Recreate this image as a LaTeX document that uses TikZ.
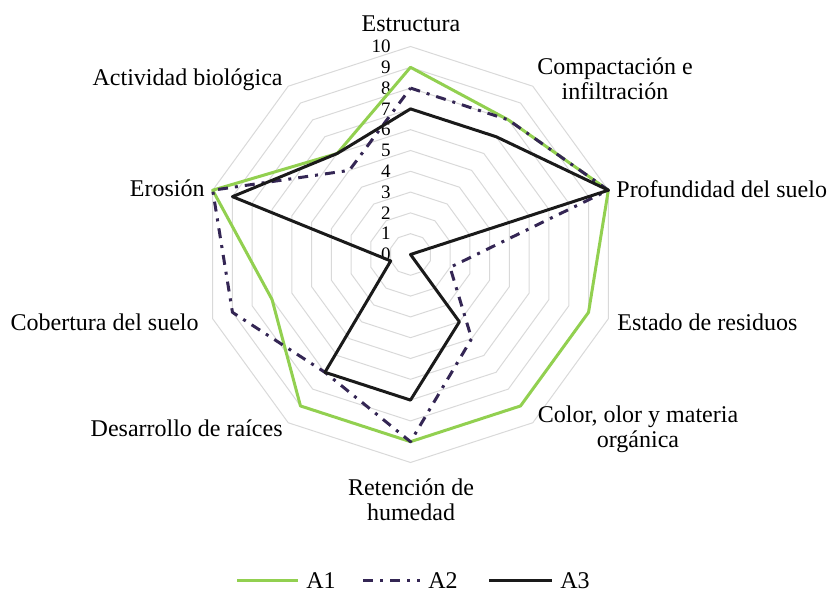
\documentclass[tikz,border=0pt]{standalone}
\usepackage{fontspec}
\setmainfont{Liberation Serif}
\usetikzlibrary{calc}

\definecolor{serieA1}{RGB}{146,208,80}
\definecolor{serieA2}{RGB}{52,38,84}
\definecolor{serieA3}{RGB}{26,26,26}
\definecolor{gridgray}{RGB}{217,217,217}

\begin{document}
\begin{tikzpicture}[x=0.5pt,y=0.5pt,
    lbl/.style={font=\fontsize{12}{12.5}\selectfont,inner sep=0pt,align=center},
    tick/.style={font=\fontsize{9.5}{9.5}\selectfont,anchor=east,inner sep=0pt},
    ring/.style={gridgray,line width=0.5pt},
    sA1/.style={serieA1,line width=1.5pt,line join=round},
    sA2/.style={serieA2,line width=1.5pt,line join=round,dash pattern=on 5pt off 3.5pt on 1.5pt off 3.5pt},
    sA3/.style={serieA3,line width=1.5pt,line join=round}]
  \useasboundingbox (0,0) rectangle (830,598);
  \coordinate (C) at (410.5,343.5);

  % rejilla
  \foreach \r in {1,...,10}
    \draw[ring] ($(C)+(90:{\r*20.8})$) \foreach \k in {1,...,9} { -- ($(C)+({90-36*\k}:{\r*20.8})$) } -- cycle;
  \foreach \v in {0,...,10}
    \node[tick] (t\v) at ($(C)+(-19.5,{\v*20.8})$) {\v};

  % ejes
  \node[lbl] (ej1) at (411,574) {Estructura};
  \node[lbl] (ej2) at (615,519) {Compactación e\\infiltración};
  \node[lbl,anchor=west] (ej3) at (616,409) {Profundidad del suelo};
  \node[lbl,anchor=west] (ej4) at (617,276) {Estado de residuos};
  \node[lbl] (ej5) at (638,168.5) {Color, olor y materia\\orgánica};
  \node[lbl] (ej6) at (411,98) {Retención de\\humedad};
  \node[lbl,anchor=east] (ej7) at (283,169.5) {Desarrollo de raíces};
  \node[lbl,anchor=east] (ej8) at (199,276) {Cobertura del suelo};
  \node[lbl,anchor=east] (ej9) at (205,410) {Erosión};
  \node[lbl,anchor=east] (ej10) at (283,518) {Actividad biológica};

  % series
  \foreach \v [count=\i] in {9,8,10,9,9,9,9,7,10,6}
    \coordinate (a1-\i) at ($(C)+({126-36*\i}:{\v*20.8})$);
  \foreach \v [count=\i] in {8,8,10,2,5,9,7,9,10,5}
    \coordinate (a2-\i) at ($(C)+({126-36*\i}:{\v*20.8})$);
  \foreach \v [count=\i] in {7,7,10,0,4,7,7,1,9,6}
    \coordinate (a3-\i) at ($(C)+({126-36*\i}:{\v*20.8})$);
  \draw[sA1] (a1-1) \foreach \i in {2,...,10} { -- (a1-\i) } -- cycle;
  \draw[sA2] (a2-1) \foreach \i in {2,...,10} { -- (a2-\i) } -- cycle;
  \draw[sA3] (a3-1) \foreach \i in {2,...,10} { -- (a3-\i) } -- cycle;

  % leyenda
  \node[lbl,anchor=west] (leg1) at (306,17) {A1};
  \node[lbl,anchor=west] (leg2) at (428,17) {A2};
  \node[lbl,anchor=west] (leg3) at (560,17) {A3};
  \draw[sA1] ([xshift=-4pt]leg1.west) ++(-61,0) -- ++(61,0);
  \draw[sA2] ([xshift=-4pt]leg2.west) ++(-57,0) -- ++(57,0);
  \draw[sA3] ([xshift=-4pt]leg3.west) ++(-63,0) -- ++(63,0);
\end{tikzpicture}
\end{document}
